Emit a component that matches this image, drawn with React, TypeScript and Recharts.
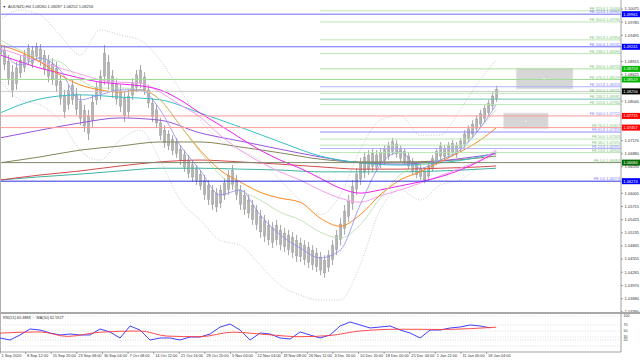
import React from 'react';
import { ComposedChart, Bar, Line, XAxis, YAxis, ReferenceLine, ReferenceArea, ReferenceDot } from 'recharts';

const FONT = '"Liberation Sans", Arial, sans-serif';

// ---- candles (H4 bars grouped, index step 5 bars) ----
const candleHigh = [
  1.0935, 1.0928, 1.0906, 1.0884, 1.0891, 1.0906, 1.0917, 1.0930, 1.0926, 1.0933,
  1.0930, 1.0917, 1.0906, 1.0899, 1.0891, 1.0862, 1.0829, 1.0840, 1.0851, 1.0833,
  1.0818, 1.0796, 1.0785, 1.0818, 1.0846, 1.0873, 1.0928, 1.0906, 1.0873, 1.0855,
  1.0840, 1.0824, 1.0829, 1.0855, 1.0873, 1.0884, 1.0868, 1.0840, 1.0811, 1.0796,
  1.0767, 1.0751, 1.0740, 1.0729, 1.0723, 1.0707, 1.0696, 1.0685, 1.0674, 1.0663,
  1.0652, 1.0641, 1.0630, 1.0619, 1.0612, 1.0619, 1.0634, 1.0652, 1.0663, 1.0641,
  1.0619, 1.0608, 1.0597, 1.0586, 1.0575, 1.0564, 1.0553, 1.0542, 1.0537, 1.0542,
  1.0531, 1.0524, 1.0520, 1.0515, 1.0509, 1.0502, 1.0497, 1.0493, 1.0486, 1.0480,
  1.0471, 1.0464, 1.0475, 1.0497, 1.0520, 1.0546, 1.0575, 1.0597, 1.0630, 1.0656,
  1.0679, 1.0692, 1.0696, 1.0701, 1.0696, 1.0701, 1.0707, 1.0714, 1.0723, 1.0718,
  1.0707, 1.0701, 1.0692, 1.0679, 1.0670, 1.0663, 1.0656, 1.0670, 1.0685, 1.0701,
  1.0714, 1.0707, 1.0714, 1.0718, 1.0714, 1.0723, 1.0740, 1.0751, 1.0762, 1.0773,
  1.0785, 1.0796, 1.0807, 1.0824, 1.0838,
];
const candleLow = [
  1.0899, 1.0873, 1.0840, 1.0813, 1.0829, 1.0855, 1.0868, 1.0884, 1.0877, 1.0895,
  1.0882, 1.0862, 1.0846, 1.0840, 1.0824, 1.0796, 1.0767, 1.0785, 1.0796, 1.0773,
  1.0751, 1.0736, 1.0718, 1.0745, 1.0796, 1.0807, 1.0840, 1.0829, 1.0811, 1.0796,
  1.0780, 1.0758, 1.0767, 1.0807, 1.0824, 1.0833, 1.0818, 1.0789, 1.0758, 1.0745,
  1.0718, 1.0701, 1.0696, 1.0685, 1.0679, 1.0663, 1.0648, 1.0634, 1.0626, 1.0619,
  1.0608, 1.0586, 1.0575, 1.0564, 1.0559, 1.0568, 1.0586, 1.0597, 1.0608, 1.0586,
  1.0564, 1.0553, 1.0546, 1.0531, 1.0520, 1.0502, 1.0493, 1.0486, 1.0480, 1.0486,
  1.0475, 1.0471, 1.0464, 1.0458, 1.0449, 1.0449, 1.0442, 1.0436, 1.0431, 1.0427,
  1.0420, 1.0414, 1.0427, 1.0442, 1.0464, 1.0486, 1.0509, 1.0537, 1.0564, 1.0597,
  1.0619, 1.0634, 1.0641, 1.0648, 1.0648, 1.0656, 1.0663, 1.0674, 1.0685, 1.0679,
  1.0670, 1.0663, 1.0652, 1.0641, 1.0634, 1.0630, 1.0623, 1.0630, 1.0648, 1.0663,
  1.0674, 1.0674, 1.0679, 1.0683, 1.0679, 1.0692, 1.0701, 1.0714, 1.0723, 1.0736,
  1.0745, 1.0758, 1.0771, 1.0785, 1.0802,
];

// ---- moving averages ----
const fastT = [0, 25, 50, 75, 100, 125, 150, 175, 200, 225, 250, 275, 300, 325, 350, 375, 400, 425, 450, 475, 500, 525, 550, 575, 600, 620];
const slowT = [0, 50, 100, 150, 200, 250, 300, 350, 400, 450, 500, 550, 600, 620];

const maBlue = [1.0921, 1.0884, 1.0899, 1.0873, 1.0807, 1.0818, 1.0829, 1.0829, 1.0785, 1.0707, 1.0652, 1.0597, 1.0608, 1.0553, 1.0509, 1.0480, 1.0458, 1.0475, 1.0575, 1.0663, 1.0692, 1.0656, 1.0674, 1.0696, 1.0745, 1.0796];
const maGreen = [1.0939, 1.0917, 1.0899, 1.0891, 1.0851, 1.0833, 1.0833, 1.0829, 1.0807, 1.0751, 1.0692, 1.0641, 1.0608, 1.0586, 1.0559, 1.0542, 1.0515, 1.0502, 1.0531, 1.0590, 1.0641, 1.0663, 1.0674, 1.0701, 1.0745, 1.0785];
const maOrange = [1.0928, 1.0913, 1.0891, 1.0862, 1.0840, 1.0829, 1.0824, 1.0829, 1.0807, 1.0751, 1.0696, 1.0652, 1.0626, 1.0603, 1.0590, 1.0581, 1.0546, 1.0528, 1.0553, 1.0597, 1.0630, 1.0648, 1.0670, 1.0692, 1.0718, 1.0745];
const maMagenta = [1.0906, 1.0891, 1.0877, 1.0866, 1.0855, 1.0846, 1.0842, 1.0838, 1.0829, 1.0807, 1.0778, 1.0751, 1.0723, 1.0696, 1.0674, 1.0656, 1.0634, 1.0612, 1.0601, 1.0608, 1.0617, 1.0626, 1.0637, 1.0652, 1.0672, 1.0692];
const maPink = [1.0921, 1.0906, 1.0891, 1.0877, 1.0864, 1.0851, 1.0846, 1.0844, 1.0824, 1.0796, 1.0769, 1.0729, 1.0696, 1.0670, 1.0648, 1.0630, 1.0608, 1.0590, 1.0581, 1.0595, 1.0608, 1.0623, 1.0639, 1.0656, 1.0674, 1.0696];
const bandUpper = [1.0983, 1.1005, 1.0994, 1.0950, 1.0906, 1.0961, 1.0950, 1.0939, 1.0895, 1.0829, 1.0762, 1.0718, 1.0696, 1.0674, 1.0630, 1.0586, 1.0553, 1.0597, 1.0696, 1.0762, 1.0773, 1.0729, 1.0729, 1.0785, 1.0851, 1.0895];
const bandLower = [1.0851, 1.0807, 1.0796, 1.0762, 1.0696, 1.0674, 1.0718, 1.0740, 1.0674, 1.0586, 1.0542, 1.0497, 1.0486, 1.0442, 1.0398, 1.0376, 1.0365, 1.0365, 1.0442, 1.0564, 1.0608, 1.0586, 1.0619, 1.0630, 1.0663, 1.0696];

const maCyan = [1.0778, 1.0809, 1.0818, 1.0813, 1.0807, 1.0778, 1.0747, 1.0714, 1.0683, 1.0668, 1.0663, 1.0668, 1.0681, 1.0690];
const maPurple = [1.0723, 1.0740, 1.0756, 1.0767, 1.0762, 1.0734, 1.0716, 1.0698, 1.0681, 1.0668, 1.0665, 1.0672, 1.0683, 1.0688];
const maOlive = [1.0668, 1.0681, 1.0696, 1.0705, 1.0714, 1.0714, 1.0703, 1.0690, 1.0676, 1.0670, 1.0670, 1.0672, 1.0679, 1.0683];
const maRed = [1.0630, 1.0641, 1.0650, 1.0661, 1.0670, 1.0674, 1.0670, 1.0665, 1.0659, 1.0654, 1.0654, 1.0656, 1.0659, 1.0661];
const maTeal = [1.0630, 1.0637, 1.0643, 1.0650, 1.0656, 1.0656, 1.0654, 1.0652, 1.0648, 1.0648, 1.0648, 1.0650, 1.0654, 1.0656];

// ---- Fibonacci expansion levels ----
const feRatios = ['323.6', '123.6', '300.0', '261.8', '100.0', '238.2', '200.0', '176.4', '161.8', '150.0', '138.2', '123.6', '100.0', '76.4', '61.8', '50.0', '38.2', '23.6', '23.6', '0.0', '0.0'];
const fePrices = [1.10034, 1.09961, 1.09790, 1.09394, 1.09241, 1.09090, 1.08753, 1.08519, 1.08359, 1.08215, 1.08085, 1.07964, 1.07715, 1.07457, 1.07359, 1.07203, 1.07070, 1.06995, 1.06906, 1.06684, 1.06274];
const currentPrice = 1.08256;

// ---- axis ticks ----
const priceTicks = [1.10075, 1.09785, 1.09495, 1.08915, 1.08625, 1.08040, 1.07170, 1.06880, 1.06590, 1.06005, 1.05715, 1.05425, 1.05135, 1.04845, 1.04555, 1.04265, 1.03970, 1.03680, 1.03390];
const timeLabels = ['1 Sep 2020', '8 Sep 12:00', '15 Sep 20:00', '23 Sep 08:00', '30 Sep 04:00', '7 Oct 08:00', '14 Oct 12:00', '21 Oct 16:00', '28 Oct 20:00', '5 Nov 00:00', '12 Nov 04:00', '19 Nov 08:00', '26 Nov 12:00', '3 Dec 16:00', '10 Dec 20:00', '18 Dec 00:00', '25 Dec 04:00', '1 Jan 22:00', '11 Jan 00:00', '18 Jan 04:00'];
const timeTicks = timeLabels.map((_, i) => i * 32);

// ---- RSI ----
const rsiValues = [26.7, 20.0, 36.7, 56.7, 53.3, 43.3, 36.7, 40.0, 36.7, 36.7, 56.7, 46.7, 26.7, 66.7, 53.3, 20.0, 26.7, 26.7, 20.0, 30.0, 30.0, 40.0, 63.3, 73.3, 53.3, 20.0, 43.3, 40.0, 26.7, 23.3, 46.7, 36.7, 26.7, 36.7, 66.7, 80.0, 70.0, 60.0, 63.3, 66.7, 53.3, 43.3, 26.7, 53.3, 53.3, 60.0, 63.3, 70.0, 66.7, 60.5];
const rsiMaT = [0, 50, 84, 125, 175, 209, 250, 291, 334, 375, 412, 450, 500, 550, 588, 620];
const rsiMaValues = [43, 47, 32, 46, 50, 33, 31, 46, 38, 31, 35, 50, 56, 55, 58, 62.6];
const rsiTicks = [100, 70, 50, 30, 20];
const rsiLevels = [100, 70, 50, 30, 20, 0];

const candleData = candleHigh.map((h, i) => ({ t: i * 5, range: [candleLow[i], h] }));
const series = (ts: number[], vs: number[]) => ts.map((t, i) => ({ t, v: vs[i] }));
const rsiData = rsiValues.map((v, i) => ({ t: i * 12.5, v }));
const rsiMaData = series(rsiMaT, rsiMaValues);

// styles per FE level (kept separate from data)
const feStyle: { line: string; text: string; full?: boolean; box?: string }[] = [
  { line: '#b6e3ae', text: '#7cc474' },
  { line: '#6a6aff', text: '#7a7aff', full: true, box: '#0000ff' },
  { line: '#b6e3ae', text: '#7cc474' },
  { line: '#b6e3ae', text: '#7cc474' },
  { line: '#6a6aff', text: '#7a7aff', full: true, box: '#0000ff' },
  { line: '#b6e3ae', text: '#7cc474' },
  { line: '#9fdc94', text: '#7cc474', box: '#00b400' },
  { line: '#9fdc94', text: '#7cc474', full: true, box: '#00b400' },
  { line: '#a9a9ff', text: '#8a8aff' },
  { line: '#b6e3ae', text: '#7cc474' },
  { line: '#5fb8b0', text: '#7cc474' },
  { line: '#b6e3ae', text: '#7cc474' },
  { line: '#ff9a9a', text: '#8a8aff', full: true, box: '#ff0000' },
  { line: '#ff9a9a', text: '#7cc474', full: true, box: '#ff0000' },
  { line: '#8080ff', text: '#8a8aff' },
  { line: '#b6e3ae', text: '#7cc474' },
  { line: '#b6e3ae', text: '#7cc474' },
  { line: '#a9a9ff', text: '#8a8aff' },
  { line: '#b6e3ae', text: '#7cc474' },
  { line: '#7d8a6a', text: '#7cc474', full: true, box: '#006a00' },
  { line: '#3030e0', text: '#7a7aff', full: true, box: '#0000ff' },
];

const renderLevelLabel = (vb: any, text: string | null, textColor: string, box?: string, boxText?: string) => {
  if (!vb) return null;
  const right = vb.x + vb.width;
  const y = vb.y;
  return (
    <g>
      {text ? (
        <text x={right - 1} y={y - 0.9} fontSize={3.8} textAnchor="end" fill={textColor} fontFamily={FONT}>{text}</text>
      ) : null}
      {box ? (
        <g>
          <rect x={right + 0.8} y={y - 3} width={18.5} height={6} fill={box} />
          <text x={right + 2.3} y={y + 1.4} fontSize={4} fill="#ffffff" fontFamily={FONT}>{boxText}</text>
        </g>
      ) : null}
    </g>
  );
};

// candle look: thin wick over the full range with a narrower body in its middle part
const CandleShape = (props: any) => {
  const { x, y, width, height } = props;
  if (height == null || isNaN(height)) return null;
  const cx = x + width / 2;
  const bodyTop = y + height * 0.22;
  const bodyH = Math.max(height * 0.56, 1);
  return (
    <g>
      <line x1={cx} x2={cx} y1={y} y2={y + height} stroke="#8e8e8e" strokeWidth={0.8} />
      <rect x={cx - 1.1} y={bodyTop} width={2.2} height={bodyH} fill="#b4b4b4" stroke="#8e8e8e" strokeWidth={0.4} />
    </g>
  );
};

const PriceTick = (props: any) => {
  const { x, y, payload } = props;
  return (
    <g>
      <line x1={x} x2={x + 2} y1={y} y2={y} stroke="#666" strokeWidth={0.6} />
      <text x={x + 3.6} y={y + 1.4} fontSize={4} fontFamily={FONT} fill="#333">{Number(payload.value).toFixed(5)}</text>
    </g>
  );
};

const RsiTick = (props: any) => {
  const { x, y, payload } = props;
  return (
    <text x={x + 2.5} y={y + 1.4} fontSize={3.6} fontFamily={FONT} fill="#333">{payload.value}</text>
  );
};

const TimeTick = (props: any) => {
  const { x, y, payload } = props;
  const idx = timeTicks.indexOf(payload.value);
  return (
    <g>
      <line x1={x} x2={x} y1={y} y2={y + 2} stroke="#666" strokeWidth={0.6} />
      <text x={x + 1.5} y={y + 5.2} fontSize={3.9} fontFamily={FONT} fill="#333">{timeLabels[idx]}</text>
    </g>
  );
};

const lineProps = { dataKey: 'v', dot: false, isAnimationActive: false, type: 'monotone' as const, strokeWidth: 1 };

export default function App() {
  return (
    <div style={{ position: 'absolute', left: 0, top: 0, width: 640, height: 361, background: '#ffffff', overflow: 'hidden' }}>
      <div style={{ position: 'absolute', left: 0, top: 0 }}>
        <ComposedChart width={640} height={313} data={candleData} margin={{ top: 0, right: 0, left: 0, bottom: 0 }}>
          <XAxis type="number" dataKey="t" domain={[0, 776]} allowDataOverflow hide />
          <YAxis
            orientation="right"
            type="number"
            domain={[1.03364, 1.10274]}
            allowDataOverflow
            ticks={priceTicks}
            interval={0}
            width={19}
            tick={<PriceTick />}
            tickLine={false}
            tickSize={0}
            tickMargin={0}
            axisLine={{ stroke: '#8a8a8a', strokeWidth: 0.8 }}
          />
          <ReferenceArea x1={645} x2={716} y1={1.0831} y2={1.0877} fill="#d6d6d6" fillOpacity={1} stroke="#ececec" strokeWidth={0.8} />
          <ReferenceArea x1={629} x2={685} y1={1.0743} y2={1.0778} fill="#d6d6d6" fillOpacity={1} stroke="#ececec" strokeWidth={0.8} />
          <ReferenceDot x={680} y={1.0854} r={0.7} fill="#ffffff" stroke="none" />
          <ReferenceDot x={657} y={1.0760} r={0.7} fill="#ffffff" stroke="none" />

          <Bar dataKey="range" fill="#a6a6a6" barSize={3} isAnimationActive={false} shape={<CandleShape />} />

          <Line data={series(fastT, bandUpper)} {...lineProps} stroke="#c9c9c9" strokeDasharray="1 1.6" />
          <Line data={series(fastT, bandLower)} {...lineProps} stroke="#c9c9c9" strokeDasharray="1 1.6" />
          <Line data={series(slowT, maTeal)} {...lineProps} stroke="#3fb3a3" />
          <Line data={series(slowT, maRed)} {...lineProps} stroke="#d24b4b" />
          <Line data={series(slowT, maOlive)} {...lineProps} stroke="#85865a" />
          <Line data={series(slowT, maPurple)} {...lineProps} stroke="#9b55dc" />
          <Line data={series(slowT, maCyan)} {...lineProps} stroke="#38c0c4" />
          <Line data={series(fastT, maPink)} {...lineProps} stroke="#f5a0f0" />
          <Line data={series(fastT, maMagenta)} {...lineProps} stroke="#ee22ee" />
          <Line data={series(fastT, maOrange)} {...lineProps} stroke="#ff8a1c" />
          <Line data={series(fastT, maGreen)} {...lineProps} stroke="#b5dca8" strokeWidth={0.8} />
          <Line data={series(fastT, maBlue)} {...lineProps} stroke="#8c8cf5" strokeWidth={0.8} />

          <ReferenceLine
            y={currentPrice}
            stroke="#c2c2c2"
            strokeWidth={0.8}
            label={(lp: any) => renderLevelLabel(lp.viewBox, null, '#000', '#000000', currentPrice.toFixed(5))}
          />
          {fePrices.map((p, i) => {
            const st = feStyle[i];
            const text = `FE ${feRatios[i]} ${p.toFixed(5)}`;
            const lbl = (lp: any) => renderLevelLabel(lp.viewBox, text, st.text, st.box, p.toFixed(5));
            return st.full ? (
              <ReferenceLine key={`fe${i}`} y={p} stroke={st.line} strokeWidth={1} label={lbl} />
            ) : (
              <ReferenceLine
                key={`fe${i}`}
                segment={[{ x: 400, y: p }, { x: 776, y: p }]}
                stroke={st.line}
                strokeWidth={0.9}
                label={lbl}
              />
            );
          })}
        </ComposedChart>
      </div>

      <div style={{ position: 'absolute', left: 0, top: 312, width: 640, height: 1.6, background: '#a8a8a8' }} />
      <div style={{ position: 'absolute', left: 0, top: 0, width: 1, height: 352, background: '#b0b0b0' }} />

      <div style={{ position: 'absolute', left: 0, top: 313 }}>
        <ComposedChart width={640} height={48} margin={{ top: 0.5, right: 0, left: 0, bottom: 0 }}>
          <XAxis
            type="number"
            dataKey="t"
            domain={[0, 776]}
            allowDataOverflow
            ticks={timeTicks}
            interval={0}
            tick={<TimeTick />}
            tickLine={false}
            tickSize={0}
            tickMargin={0}
            height={9}
            axisLine={{ stroke: '#8a8a8a', strokeWidth: 0.8 }}
          />
          <YAxis
            orientation="right"
            type="number"
            domain={[-20, 108.33]}
            allowDataOverflow
            ticks={rsiTicks}
            interval={0}
            width={19}
            tick={<RsiTick />}
            tickLine={false}
            tickSize={0}
            tickMargin={0}
            axisLine={{ stroke: '#8a8a8a', strokeWidth: 0.8 }}
          />
          {rsiLevels.map((l) => (
            <ReferenceLine key={`lv${l}`} y={l} stroke="#c8c8c8" strokeDasharray="1 1.5" strokeWidth={0.6} />
          ))}
          <Line data={rsiData} dataKey="v" stroke="#1010ff" strokeWidth={0.8} dot={false} isAnimationActive={false} type="linear" />
          <Line data={rsiMaData} dataKey="v" stroke="#ff3a3a" strokeWidth={0.9} dot={false} isAnimationActive={false} type="monotone" />
        </ComposedChart>
      </div>

      <svg width={640} height={361} style={{ position: 'absolute', left: 0, top: 0, pointerEvents: 'none' }}>
        <text x={2.5} y={8} fontSize={3.6} fontFamily={FONT} fill="#333">▼</text>
        <text x={8} y={8} fontSize={4} fontFamily={FONT} fill="#333">AUDNZD,H4  1.08260 1.08287 1.08252 1.08256</text>
        <text x={3} y={318.6} fontSize={3.8} fontFamily={FONT} fill="#333">RSI(11) 60.4888  ··· MA(50) 62.5927</text>
      </svg>
    </div>
  );
}
